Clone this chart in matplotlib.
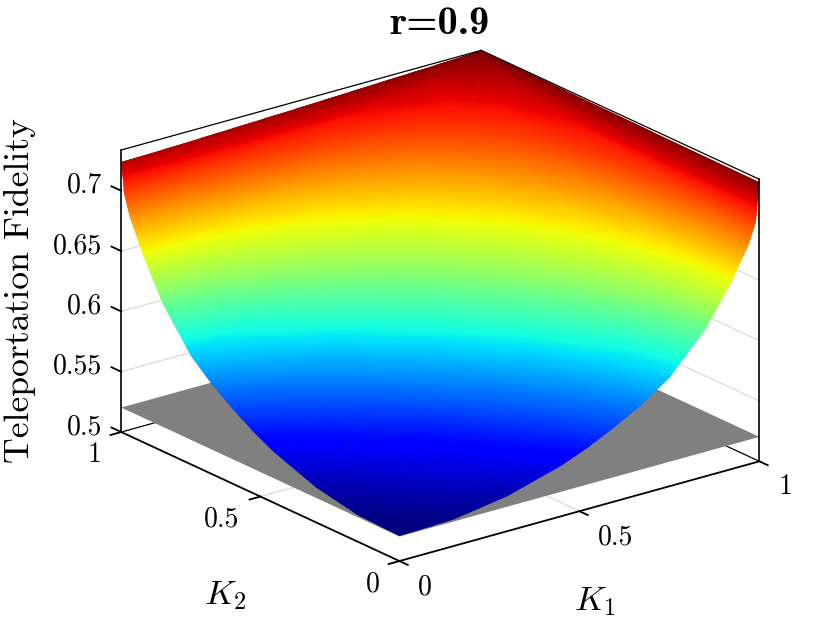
import matplotlib
matplotlib.use("Agg")
import matplotlib.pyplot as plt
from matplotlib.path import Path
from matplotlib.transforms import offset_copy
from mpl_toolkits.mplot3d import proj3d
import numpy as np

plt.rcParams['mathtext.fontset'] = 'cm'

# grid (denser near K=1 where the surface gets steep)
k_grid = [0, 0.15, 0.3, 0.45, 0.525, 0.6, 0.675, 0.75, 0.85, 0.92, 0.97, 0.99, 1]

# fidelity, rows = K2, columns = K1
fidelity = [
    [.5207, .5220, .5290, .5420, .5510, .5620, .5745, .5900, .6220, .6540, .6820, .6990, .7313],
    [.5220, .5300, .5397, .5552, .5655, .5764, .5895, .6034, .6354, .6600, .6840, .7000, .7316],
    [.5290, .5397, .5520, .5720, .5822, .5930, .6095, .6265, .6486, .6685, .6930, .7030, .7319],
    [.5420, .5552, .5720, .5906, .6040, .6177, .6310, .6440, .6626, .6810, .7008, .7060, .7323],
    [.5510, .5655, .5822, .6040, .6148, .6285, .6405, .6525, .6710, .6880, .7040, .7085, .7325],
    [.5620, .5764, .5930, .6177, .6285, .6390, .6500, .6605, .6790, .6947, .7070, .7110, .7327],
    [.5745, .5895, .6095, .6310, .6405, .6500, .6600, .6705, .6870, .7005, .7115, .7145, .7329],
    [.5900, .6034, .6265, .6440, .6525, .6605, .6705, .6810, .6954, .7060, .7156, .7180, .7331],
    [.6220, .6354, .6486, .6626, .6710, .6790, .6870, .6954, .7060, .7134, .7190, .7220, .7333],
    [.6540, .6600, .6685, .6810, .6880, .6947, .7005, .7060, .7134, .7200, .7250, .7260, .7335],
    [.6820, .6840, .6930, .7008, .7040, .7070, .7115, .7156, .7190, .7250, .7290, .7300, .7337],
    [.6990, .7000, .7030, .7060, .7085, .7110, .7145, .7180, .7220, .7260, .7300, .7325, .7337],
    [.7239, .7248, .7262, .7276, .7284, .7292, .7300, .7308, .7318, .7327, .7333, .7337, .7338],
]
classical_limit = 0.5203

z_ticks = [0.5, 0.55, 0.6, 0.65, 0.7]
z_tick_labels = ['0.5', '0.55', '0.6', '0.65', '0.7']
k_ticks = [0, 0.5, 1]
k_tick_labels = ['0', '0.5', '1']
z_low, z_high = 0.5, 0.7338

W, H = 840, 630
fig = plt.figure(figsize=(W / 100, H / 100), dpi=100)
side = 690
ax = fig.add_axes([86 / W, (H - 660) / H, side / W, side / H], projection='3d')
ax.set_proj_type('ortho')
ax.view_init(elev=21, azim=-127.7)
ax.set_box_aspect((1, 1, 0.664))
ax.set_xlim(0, 1, view_margin=0)
ax.set_ylim(0, 1, view_margin=0)
ax.set_zlim(z_low, z_high, view_margin=0)
ax.set_axis_off()
ax.computed_zorder = False
proj = ax.get_proj()

K1, K2 = np.meshgrid(k_grid, k_grid)
Z = np.array(fidelity)

# --- grid on the back walls and floor ---
grid_col = '#dcdcdc'
for z in z_ticks[1:]:
    ax.plot([0, 1], [1, 1], [z, z], color=grid_col, lw=1, zorder=1)
    ax.plot([1, 1], [0, 1], [z, z], color=grid_col, lw=1, zorder=1)
ax.plot([0.5, 0.5], [0, 1], [z_low, z_low], color=grid_col, lw=1, zorder=1)
ax.plot([0, 1], [0.5, 0.5], [z_low, z_low], color=grid_col, lw=1, zorder=1)

# --- back edges of the box ---
ax.plot([0, 1], [1, 1], [z_low, z_low], color='k', lw=0.9, zorder=1.5)
ax.plot([1, 1], [0, 1], [z_low, z_low], color='k', lw=0.9, zorder=1.5)

# grey plane for the classical limit
plane_x, plane_y = np.meshgrid([0, 1], [0, 1])
ax.plot_surface(plane_x, plane_y, np.full_like(plane_x, classical_limit, dtype=float),
                color='#808080', shade=False, linewidth=0, antialiased=True, zorder=2)

surf = ax.contourf(K1, K2, Z, levels=np.linspace(Z.min(), Z.max(), 256), cmap='jet',
                   zorder=3, antialiased=True)
# the stacked bands leave small gaps, close them with a thin edge
surf.set_edgecolor('face')
surf.set_linewidth(1.2)

# clean outline: clip the bands to the projected border of the table
rim_x = np.r_[K1[0, :], K1[:, -1], K1[-1, ::-1], K1[::-1, 0]]
rim_y = np.r_[K2[0, :], K2[:, -1], K2[-1, ::-1], K2[::-1, 0]]
rim_z = np.r_[Z[0, :], Z[:, -1], Z[-1, ::-1], Z[::-1, 0]]
rim_px, rim_py, _ = proj3d.proj_transform(rim_x, rim_y, rim_z, proj)
surf.set_clip_path(Path(np.column_stack([rim_px, rim_py])), ax.transData)

# --- top of the box, uprights, front axes and ticks ---
ax.plot([0, 1], [1, 1], [z_high, z_high], color='k', lw=0.9, zorder=4)
ax.plot([1, 1], [0, 1], [z_high, z_high], color='k', lw=0.9, zorder=4)
ax.plot([0, 0], [1, 1], [z_low, z_high], color='k', lw=1.2, zorder=4)
ax.plot([1, 1], [0, 0], [z_low, z_high], color='k', lw=1.2, zorder=4)
ax.plot([0, 1], [0, 0], [z_low, z_low], color='k', lw=1.3, zorder=4)
ax.plot([0, 0], [0, 1], [z_low, z_low], color='k', lw=1.3, zorder=4)
for k in k_ticks:
    ax.plot([k, k], [0, -0.03], [z_low, z_low], color='k', lw=1.3, zorder=4, clip_on=False)
    ax.plot([0, -0.03], [k, k], [z_low, z_low], color='k', lw=1.3, zorder=4, clip_on=False)
for z in z_ticks:
    ax.plot([0, 0], [1, 1.035], [z, z], color='k', lw=1.3, zorder=4, clip_on=False)


def label_3d(x, y, z, text, dx, dy, ha='center'):
    # project the data point, then shift the text by a few pixels
    px, py, _ = proj3d.proj_transform(x, y, z, proj)
    tr = offset_copy(ax.transData, fig=fig, x=dx, y=dy, units='dots')
    ax.text2D(px, py, text, transform=tr, ha=ha, va='center', family='cmr10',
              fontsize=20, color='k', zorder=5)


for k, lab, dx in zip(k_ticks, k_tick_labels, [25, 36, 26]):
    label_3d(k, 0, z_low, lab, dx, -26)
for k, lab, dx in zip(k_ticks, k_tick_labels, [-27, -39, -27]):
    label_3d(0, k, z_low, lab, dx, -23)
for z, lab in zip(z_ticks, z_tick_labels):
    label_3d(0, 1, z, lab, -19, 5, ha='right')

fig.text(440 / W, 1 - 25 / H, 'r=0.9', family='cmb10', fontsize=29, ha='center', va='center')
fig.text(20 / W, 1 - 291 / H, 'Teleportation Fidelity', family='cmr10', fontsize=25.7,
         rotation=90, ha='center', va='center')
fig.text(595 / W, 1 - 601 / H, r'$K_1$', fontsize=25, ha='center', va='center')
fig.text(225 / W, 1 - 595 / H, r'$K_2$', fontsize=25, ha='center', va='center')

fig.savefig('out.png', dpi=100)
